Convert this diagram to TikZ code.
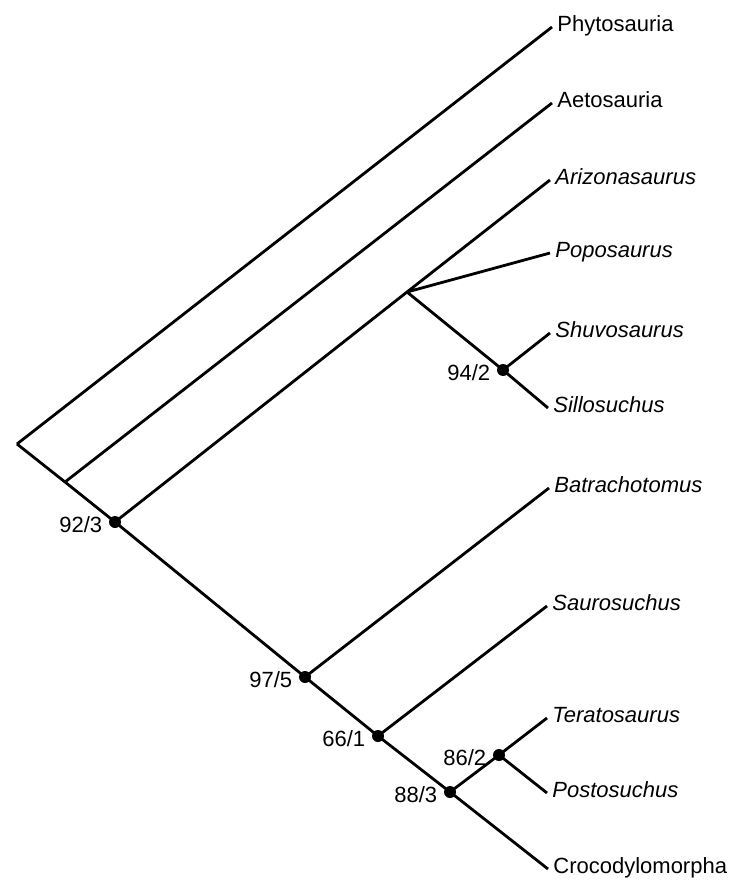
\documentclass[tikz,border=0pt]{standalone}
\usepackage{fontspec}
\setmainfont{Liberation Sans}
\usetikzlibrary{positioning}

\begin{document}
\begin{tikzpicture}[x=0.5pt,y=-0.5pt,line width=1.4pt]
        \tikzset{taxon/.style={anchor=west,inner xsep=2pt,inner ysep=0pt,text height=0.7em,text depth=0.26em,font=\fontsize{11}{13}\selectfont},
        genus/.style={taxon,font=\fontsize{11}{13}\selectfont\itshape},
        dot/.style={circle,fill=black,inner sep=0pt,minimum size=6pt},
        support/.style={inner sep=0pt,text height=1em,text depth=0pt,font=\fontsize{11}{13}\selectfont},
        }
        \useasboundingbox (0,0) rectangle (733,882);

%% leaves
        \node [taxon] (phyto)  at (552,27)  {Phytosauria};
        \node [taxon] (aeto)   at (552,103) {Aetosauria};
        \node [genus] (arizo)  at (550,180) {Arizonasaurus};
        \node [genus] (popo)   at (550,253) {Poposaurus};
        \node [genus] (shuvo)  at (550,333) {Shuvosaurus};
        \node [genus] (sillo)  at (548,408) {Sillosuchus};
        \node [genus] (batra)  at (549,488) {Batrachotomus};
        \node [genus] (sauro)  at (547,606) {Saurosuchus};
        \node [genus] (terato) at (547,718) {Teratosaurus};
        \node [genus] (posto)  at (547,793) {Postosuchus};
        \node [taxon] (croco)  at (548,869) {Crocodylomorpha};

%% inner nodes
        \coordinate (root) at (17,444);
        \coordinate (b1) at (65,482);  %% Aetosauria split
        \coordinate (b2) at (407,292); %% Poposaurus split
        \node [dot] (n923) at (115,522) {};
        \node [dot] (n942) at (503,370) {};
        \node [dot] (n975) at (305,677) {};
        \node [dot] (n661) at (378,736) {};
        \node [dot] (n883) at (450,792) {};
        \node [dot] (n862) at (499,755) {};

%% support values
        \node [support, left=2pt of n923] (s923) {92/3};
        \node [support, left=2pt of n942] (s942) {94/2};
        \node [support, left=2pt of n975] (s975) {97/5};
        \node [support, left=2pt of n661] (s661) {66/1};
        \node [support, left=2pt of n883] (s883) {88/3};
        \node [support, left=2pt of n862] (s862) {86/2};

%% branches
        \path[draw] (root) -- (phyto.west)
                    (root) -- (b1.center) -- (aeto.west)
                    (b1) -- (n923.center) -- (b2) -- (arizo.west)
                    (b2) -- (popo.west)
                    (b2) -- (n942.center) -- (shuvo.west)
                    (n942.center) -- (sillo.west)
                    (n923.center) -- (n975.center) -- (batra.west)
                    (n975.center) -- (n661.center) -- (sauro.west)
                    (n661.center) -- (n883.center) -- (croco.west)
                    (n883.center) -- (n862.center) -- (terato.west)
                    (n862.center) -- (posto.west)
                    ;
\end{tikzpicture}
\end{document}
